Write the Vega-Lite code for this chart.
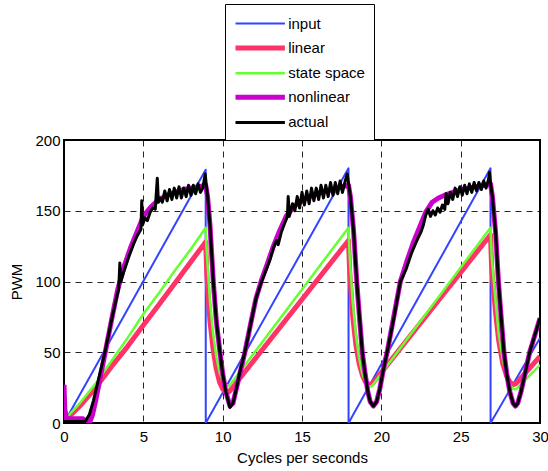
{
  "$schema": "https://vega.github.io/schema/vega-lite/v6.json",
  "width": 476,
  "height": 283,
  "autosize": {"type": "none"},
  "padding": {"left": 64, "top": 140, "right": 8, "bottom": 48},
  "background": "white",
  "config": {
    "view": {"stroke": "black", "strokeWidth": 2},
    "font": "Liberation Sans",
    "axis": {
      "domain": false,
      "ticks": false,
      "labelFont": "Liberation Sans",
      "labelFontSize": 15,
      "labelColor": "black",
      "labelFlush": false,
      "labelOverlap": false,
      "titleFont": "Liberation Sans",
      "titleFontSize": 15,
      "titleFontWeight": "normal",
      "titleColor": "black",
      "gridColor": "black",
      "gridDash": [6, 5],
      "gridOpacity": 0.85,
      "gridWidth": 1
    }
  },
  "data": {"values": [
    {"series": "input", "x": 0.3, "y": 6},
    {"series": "input", "x": 8.93, "y": 179},
    {"series": "input", "x": 8.935, "y": 0},
    {"series": "input", "x": 17.93, "y": 180},
    {"series": "input", "x": 17.935, "y": 0},
    {"series": "input", "x": 26.88, "y": 180},
    {"series": "input", "x": 26.885, "y": 0},
    {"series": "input", "x": 30, "y": 60},

    {"series": "linear", "x": 0.1, "y": 2},
    {"series": "linear", "x": 1, "y": 12},
    {"series": "linear", "x": 2, "y": 25},
    {"series": "linear", "x": 3, "y": 40},
    {"series": "linear", "x": 4, "y": 54},
    {"series": "linear", "x": 5, "y": 69},
    {"series": "linear", "x": 6, "y": 84},
    {"series": "linear", "x": 7, "y": 99},
    {"series": "linear", "x": 8, "y": 114},
    {"series": "linear", "x": 8.93, "y": 128},
    {"series": "linear", "x": 9.0, "y": 105},
    {"series": "linear", "x": 9.2, "y": 72},
    {"series": "linear", "x": 9.4, "y": 52},
    {"series": "linear", "x": 9.6, "y": 38},
    {"series": "linear", "x": 9.8, "y": 29},
    {"series": "linear", "x": 10.0, "y": 24},
    {"series": "linear", "x": 10.25, "y": 21},
    {"series": "linear", "x": 10.4, "y": 22},
    {"series": "linear", "x": 17.93, "y": 129},
    {"series": "linear", "x": 18.0, "y": 108},
    {"series": "linear", "x": 18.2, "y": 75},
    {"series": "linear", "x": 18.4, "y": 55},
    {"series": "linear", "x": 18.6, "y": 42},
    {"series": "linear", "x": 18.8, "y": 34},
    {"series": "linear", "x": 19.0, "y": 29},
    {"series": "linear", "x": 19.25, "y": 27},
    {"series": "linear", "x": 19.45, "y": 28},
    {"series": "linear", "x": 26.88, "y": 133},
    {"series": "linear", "x": 26.95, "y": 110},
    {"series": "linear", "x": 27.2, "y": 78},
    {"series": "linear", "x": 27.4, "y": 58},
    {"series": "linear", "x": 27.65, "y": 42},
    {"series": "linear", "x": 27.9, "y": 33},
    {"series": "linear", "x": 28.1, "y": 29},
    {"series": "linear", "x": 28.3, "y": 27},
    {"series": "linear", "x": 28.5, "y": 28},
    {"series": "linear", "x": 30, "y": 47},

    {"series": "state space", "x": 0.1, "y": 3},
    {"series": "state space", "x": 1, "y": 14},
    {"series": "state space", "x": 2, "y": 28},
    {"series": "state space", "x": 3, "y": 44},
    {"series": "state space", "x": 4, "y": 60},
    {"series": "state space", "x": 5, "y": 77},
    {"series": "state space", "x": 6, "y": 92},
    {"series": "state space", "x": 7, "y": 108},
    {"series": "state space", "x": 8, "y": 123},
    {"series": "state space", "x": 8.93, "y": 138},
    {"series": "state space", "x": 9.0, "y": 120},
    {"series": "state space", "x": 9.2, "y": 86},
    {"series": "state space", "x": 9.4, "y": 63},
    {"series": "state space", "x": 9.6, "y": 47},
    {"series": "state space", "x": 9.8, "y": 36},
    {"series": "state space", "x": 10.0, "y": 30},
    {"series": "state space", "x": 10.2, "y": 27},
    {"series": "state space", "x": 10.4, "y": 26},
    {"series": "state space", "x": 17.93, "y": 138},
    {"series": "state space", "x": 18.0, "y": 118},
    {"series": "state space", "x": 18.2, "y": 85},
    {"series": "state space", "x": 18.4, "y": 62},
    {"series": "state space", "x": 18.6, "y": 46},
    {"series": "state space", "x": 18.8, "y": 35},
    {"series": "state space", "x": 19.0, "y": 29},
    {"series": "state space", "x": 19.2, "y": 26},
    {"series": "state space", "x": 19.4, "y": 26},
    {"series": "state space", "x": 26.88, "y": 138},
    {"series": "state space", "x": 26.95, "y": 118},
    {"series": "state space", "x": 27.2, "y": 86},
    {"series": "state space", "x": 27.4, "y": 63},
    {"series": "state space", "x": 27.65, "y": 45},
    {"series": "state space", "x": 27.9, "y": 33},
    {"series": "state space", "x": 28.1, "y": 27},
    {"series": "state space", "x": 28.3, "y": 24},
    {"series": "state space", "x": 28.5, "y": 24},
    {"series": "state space", "x": 30, "y": 41},

    {"series": "nonlinear", "x": 0, "y": 27},
    {"series": "nonlinear", "x": 0.05, "y": 10},
    {"series": "nonlinear", "x": 0.15, "y": 3},
    {"series": "nonlinear", "x": 0.5, "y": 3},
    {"series": "nonlinear", "x": 1.2, "y": 3},
    {"series": "nonlinear", "x": 1.4, "y": 1},
    {"series": "nonlinear", "x": 1.6, "y": 0},
    {"series": "nonlinear", "x": 1.8, "y": 6},
    {"series": "nonlinear", "x": 2.0, "y": 16},
    {"series": "nonlinear", "x": 2.3, "y": 33},
    {"series": "nonlinear", "x": 2.6, "y": 50},
    {"series": "nonlinear", "x": 3.0, "y": 73},
    {"series": "nonlinear", "x": 3.4, "y": 95},
    {"series": "nonlinear", "x": 3.8, "y": 111},
    {"series": "nonlinear", "x": 4.2, "y": 124},
    {"series": "nonlinear", "x": 4.6, "y": 135},
    {"series": "nonlinear", "x": 5.0, "y": 146},
    {"series": "nonlinear", "x": 5.5, "y": 153},
    {"series": "nonlinear", "x": 6.0, "y": 158},
    {"series": "nonlinear", "x": 6.5, "y": 161},
    {"series": "nonlinear", "x": 7.0, "y": 163},
    {"series": "nonlinear", "x": 7.5, "y": 165},
    {"series": "nonlinear", "x": 8.0, "y": 166},
    {"series": "nonlinear", "x": 8.5, "y": 167},
    {"series": "nonlinear", "x": 8.93, "y": 168},
    {"series": "nonlinear", "x": 9.05, "y": 160},
    {"series": "nonlinear", "x": 9.2, "y": 140},
    {"series": "nonlinear", "x": 9.41, "y": 100},
    {"series": "nonlinear", "x": 9.6, "y": 72},
    {"series": "nonlinear", "x": 9.83, "y": 50},
    {"series": "nonlinear", "x": 10.0, "y": 35},
    {"series": "nonlinear", "x": 10.2, "y": 22},
    {"series": "nonlinear", "x": 10.46, "y": 12},
    {"series": "nonlinear", "x": 10.65, "y": 14},
    {"series": "nonlinear", "x": 10.9, "y": 26},
    {"series": "nonlinear", "x": 11.4, "y": 50},
    {"series": "nonlinear", "x": 11.8, "y": 72},
    {"series": "nonlinear", "x": 12.1, "y": 88},
    {"series": "nonlinear", "x": 12.45, "y": 101},
    {"series": "nonlinear", "x": 12.8, "y": 112},
    {"series": "nonlinear", "x": 13.2, "y": 125},
    {"series": "nonlinear", "x": 13.6, "y": 136},
    {"series": "nonlinear", "x": 14.0, "y": 146},
    {"series": "nonlinear", "x": 14.5, "y": 153},
    {"series": "nonlinear", "x": 15.0, "y": 157},
    {"series": "nonlinear", "x": 15.5, "y": 160},
    {"series": "nonlinear", "x": 16.0, "y": 162},
    {"series": "nonlinear", "x": 16.5, "y": 164},
    {"series": "nonlinear", "x": 17.0, "y": 165},
    {"series": "nonlinear", "x": 17.5, "y": 167},
    {"series": "nonlinear", "x": 17.93, "y": 168},
    {"series": "nonlinear", "x": 18.05, "y": 160},
    {"series": "nonlinear", "x": 18.25, "y": 136},
    {"series": "nonlinear", "x": 18.45, "y": 100},
    {"series": "nonlinear", "x": 18.6, "y": 78},
    {"series": "nonlinear", "x": 18.8, "y": 50},
    {"series": "nonlinear", "x": 18.95, "y": 37},
    {"series": "nonlinear", "x": 19.15, "y": 22},
    {"series": "nonlinear", "x": 19.3, "y": 15},
    {"series": "nonlinear", "x": 19.5, "y": 12},
    {"series": "nonlinear", "x": 19.7, "y": 15},
    {"series": "nonlinear", "x": 19.9, "y": 24},
    {"series": "nonlinear", "x": 20.1, "y": 36},
    {"series": "nonlinear", "x": 20.4, "y": 52},
    {"series": "nonlinear", "x": 20.8, "y": 76},
    {"series": "nonlinear", "x": 21.2, "y": 100},
    {"series": "nonlinear", "x": 21.6, "y": 114},
    {"series": "nonlinear", "x": 22.0, "y": 127},
    {"series": "nonlinear", "x": 22.4, "y": 138},
    {"series": "nonlinear", "x": 22.8, "y": 149},
    {"series": "nonlinear", "x": 23.2, "y": 156},
    {"series": "nonlinear", "x": 23.6, "y": 159},
    {"series": "nonlinear", "x": 24.0, "y": 161},
    {"series": "nonlinear", "x": 24.5, "y": 163},
    {"series": "nonlinear", "x": 25.0, "y": 165},
    {"series": "nonlinear", "x": 25.5, "y": 166},
    {"series": "nonlinear", "x": 26.0, "y": 167},
    {"series": "nonlinear", "x": 26.5, "y": 168},
    {"series": "nonlinear", "x": 26.88, "y": 169},
    {"series": "nonlinear", "x": 27.0, "y": 160},
    {"series": "nonlinear", "x": 27.2, "y": 135},
    {"series": "nonlinear", "x": 27.38, "y": 100},
    {"series": "nonlinear", "x": 27.55, "y": 75},
    {"series": "nonlinear", "x": 27.73, "y": 50},
    {"series": "nonlinear", "x": 27.9, "y": 35},
    {"series": "nonlinear", "x": 28.1, "y": 22},
    {"series": "nonlinear", "x": 28.3, "y": 14},
    {"series": "nonlinear", "x": 28.45, "y": 12},
    {"series": "nonlinear", "x": 28.6, "y": 14},
    {"series": "nonlinear", "x": 28.8, "y": 22},
    {"series": "nonlinear", "x": 29.0, "y": 32},
    {"series": "nonlinear", "x": 29.35, "y": 50},
    {"series": "nonlinear", "x": 29.7, "y": 63},
    {"series": "nonlinear", "x": 30, "y": 74},

    {"series": "actual", "x": 0, "y": 1},
    {"series": "actual", "x": 0.5, "y": 1},
    {"series": "actual", "x": 1.0, "y": 1},
    {"series": "actual", "x": 1.34, "y": 1},
    {"series": "actual", "x": 1.6, "y": 6},
    {"series": "actual", "x": 1.86, "y": 16},
    {"series": "actual", "x": 2.2, "y": 32},
    {"series": "actual", "x": 2.6, "y": 51},
    {"series": "actual", "x": 3.0, "y": 73},
    {"series": "actual", "x": 3.3, "y": 88},
    {"series": "actual", "x": 3.45, "y": 95},
    {"series": "actual", "x": 3.52, "y": 113},
    {"series": "actual", "x": 3.58, "y": 100},
    {"series": "actual", "x": 3.8, "y": 108},
    {"series": "actual", "x": 4.1, "y": 118},
    {"series": "actual", "x": 4.37, "y": 126},
    {"series": "actual", "x": 4.6, "y": 132},
    {"series": "actual", "x": 4.85, "y": 137},
    {"series": "actual", "x": 4.9, "y": 157},
    {"series": "actual", "x": 4.95, "y": 140},
    {"series": "actual", "x": 5.1, "y": 145},
    {"series": "actual", "x": 5.25, "y": 143},
    {"series": "actual", "x": 5.43, "y": 149},
    {"series": "actual", "x": 5.6, "y": 152},
    {"series": "actual", "x": 5.75, "y": 151},
    {"series": "actual", "x": 5.88, "y": 173},
    {"series": "actual", "x": 5.95, "y": 156},
    {"series": "actual", "x": 6.06, "y": 159},
    {"series": "actual", "x": 6.2, "y": 156},
    {"series": "actual", "x": 6.35, "y": 164},
    {"series": "actual", "x": 6.5, "y": 157},
    {"series": "actual", "x": 6.65, "y": 165},
    {"series": "actual", "x": 6.8, "y": 158},
    {"series": "actual", "x": 6.95, "y": 166},
    {"series": "actual", "x": 7.1, "y": 159},
    {"series": "actual", "x": 7.25, "y": 167},
    {"series": "actual", "x": 7.4, "y": 159},
    {"series": "actual", "x": 7.55, "y": 166},
    {"series": "actual", "x": 7.7, "y": 160},
    {"series": "actual", "x": 7.85, "y": 168},
    {"series": "actual", "x": 8.0, "y": 161},
    {"series": "actual", "x": 8.15, "y": 168},
    {"series": "actual", "x": 8.3, "y": 162},
    {"series": "actual", "x": 8.45, "y": 169},
    {"series": "actual", "x": 8.6, "y": 163},
    {"series": "actual", "x": 8.75, "y": 166},
    {"series": "actual", "x": 8.9, "y": 176},
    {"series": "actual", "x": 8.97, "y": 168},
    {"series": "actual", "x": 9.05, "y": 160},
    {"series": "actual", "x": 9.2, "y": 140},
    {"series": "actual", "x": 9.41, "y": 100},
    {"series": "actual", "x": 9.6, "y": 72},
    {"series": "actual", "x": 9.83, "y": 50},
    {"series": "actual", "x": 10.0, "y": 35},
    {"series": "actual", "x": 10.2, "y": 22},
    {"series": "actual", "x": 10.46, "y": 11},
    {"series": "actual", "x": 10.65, "y": 14},
    {"series": "actual", "x": 10.9, "y": 26},
    {"series": "actual", "x": 11.1, "y": 37},
    {"series": "actual", "x": 11.4, "y": 50},
    {"series": "actual", "x": 11.8, "y": 72},
    {"series": "actual", "x": 12.1, "y": 88},
    {"series": "actual", "x": 12.45, "y": 100},
    {"series": "actual", "x": 12.8, "y": 110},
    {"series": "actual", "x": 13.0, "y": 116},
    {"series": "actual", "x": 13.2, "y": 124},
    {"series": "actual", "x": 13.4, "y": 129},
    {"series": "actual", "x": 13.5, "y": 126},
    {"series": "actual", "x": 13.7, "y": 135},
    {"series": "actual", "x": 13.9, "y": 141},
    {"series": "actual", "x": 14.08, "y": 146},
    {"series": "actual", "x": 14.13, "y": 160},
    {"series": "actual", "x": 14.2, "y": 146},
    {"series": "actual", "x": 14.4, "y": 155},
    {"series": "actual", "x": 14.55, "y": 150},
    {"series": "actual", "x": 14.7, "y": 160},
    {"series": "actual", "x": 14.85, "y": 152},
    {"series": "actual", "x": 15.0, "y": 163},
    {"series": "actual", "x": 15.15, "y": 154},
    {"series": "actual", "x": 15.3, "y": 164},
    {"series": "actual", "x": 15.45, "y": 155},
    {"series": "actual", "x": 15.6, "y": 166},
    {"series": "actual", "x": 15.75, "y": 157},
    {"series": "actual", "x": 15.9, "y": 166},
    {"series": "actual", "x": 16.05, "y": 158},
    {"series": "actual", "x": 16.2, "y": 168},
    {"series": "actual", "x": 16.35, "y": 159},
    {"series": "actual", "x": 16.5, "y": 168},
    {"series": "actual", "x": 16.65, "y": 160},
    {"series": "actual", "x": 16.8, "y": 170},
    {"series": "actual", "x": 16.95, "y": 161},
    {"series": "actual", "x": 17.1, "y": 170},
    {"series": "actual", "x": 17.25, "y": 162},
    {"series": "actual", "x": 17.4, "y": 171},
    {"series": "actual", "x": 17.55, "y": 163},
    {"series": "actual", "x": 17.7, "y": 170},
    {"series": "actual", "x": 17.85, "y": 176},
    {"series": "actual", "x": 17.95, "y": 168},
    {"series": "actual", "x": 18.05, "y": 160},
    {"series": "actual", "x": 18.25, "y": 136},
    {"series": "actual", "x": 18.45, "y": 100},
    {"series": "actual", "x": 18.6, "y": 78},
    {"series": "actual", "x": 18.8, "y": 50},
    {"series": "actual", "x": 18.95, "y": 37},
    {"series": "actual", "x": 19.15, "y": 22},
    {"series": "actual", "x": 19.3, "y": 15},
    {"series": "actual", "x": 19.5, "y": 12},
    {"series": "actual", "x": 19.7, "y": 15},
    {"series": "actual", "x": 19.9, "y": 24},
    {"series": "actual", "x": 20.1, "y": 36},
    {"series": "actual", "x": 20.4, "y": 52},
    {"series": "actual", "x": 20.8, "y": 75},
    {"series": "actual", "x": 21.2, "y": 100},
    {"series": "actual", "x": 21.57, "y": 109},
    {"series": "actual", "x": 21.9, "y": 120},
    {"series": "actual", "x": 22.2, "y": 128},
    {"series": "actual", "x": 22.5, "y": 135},
    {"series": "actual", "x": 22.65, "y": 140},
    {"series": "actual", "x": 22.8, "y": 147},
    {"series": "actual", "x": 22.95, "y": 151},
    {"series": "actual", "x": 23.1, "y": 146},
    {"series": "actual", "x": 23.25, "y": 150},
    {"series": "actual", "x": 23.4, "y": 147},
    {"series": "actual", "x": 23.55, "y": 152},
    {"series": "actual", "x": 23.7, "y": 149},
    {"series": "actual", "x": 23.85, "y": 154},
    {"series": "actual", "x": 24.0, "y": 151},
    {"series": "actual", "x": 24.08, "y": 162},
    {"series": "actual", "x": 24.2, "y": 155},
    {"series": "actual", "x": 24.35, "y": 163},
    {"series": "actual", "x": 24.5, "y": 158},
    {"series": "actual", "x": 24.65, "y": 166},
    {"series": "actual", "x": 24.8, "y": 160},
    {"series": "actual", "x": 24.95, "y": 167},
    {"series": "actual", "x": 25.1, "y": 161},
    {"series": "actual", "x": 25.25, "y": 168},
    {"series": "actual", "x": 25.4, "y": 162},
    {"series": "actual", "x": 25.55, "y": 169},
    {"series": "actual", "x": 25.7, "y": 163},
    {"series": "actual", "x": 25.85, "y": 170},
    {"series": "actual", "x": 26.0, "y": 164},
    {"series": "actual", "x": 26.15, "y": 170},
    {"series": "actual", "x": 26.3, "y": 165},
    {"series": "actual", "x": 26.45, "y": 171},
    {"series": "actual", "x": 26.6, "y": 166},
    {"series": "actual", "x": 26.75, "y": 172},
    {"series": "actual", "x": 26.82, "y": 177},
    {"series": "actual", "x": 26.9, "y": 168},
    {"series": "actual", "x": 27.0, "y": 160},
    {"series": "actual", "x": 27.2, "y": 135},
    {"series": "actual", "x": 27.38, "y": 100},
    {"series": "actual", "x": 27.55, "y": 75},
    {"series": "actual", "x": 27.73, "y": 50},
    {"series": "actual", "x": 27.9, "y": 35},
    {"series": "actual", "x": 28.1, "y": 22},
    {"series": "actual", "x": 28.3, "y": 14},
    {"series": "actual", "x": 28.45, "y": 12},
    {"series": "actual", "x": 28.6, "y": 14},
    {"series": "actual", "x": 28.8, "y": 22},
    {"series": "actual", "x": 29.0, "y": 32},
    {"series": "actual", "x": 29.35, "y": 50},
    {"series": "actual", "x": 29.7, "y": 63},
    {"series": "actual", "x": 30, "y": 74}
  ]},
  "mark": {"type": "line", "clip": true, "strokeJoin": "round"},
  "encoding": {
    "x": {
      "field": "x", "type": "quantitative",
      "scale": {"domain": [0, 30], "nice": false, "zero": false},
      "axis": {"values": [0, 5, 10, 15, 20, 25, 30], "title": "Cycles per seconds", "labelPadding": 6, "titlePadding": 6}
    },
    "y": {
      "field": "y", "type": "quantitative",
      "scale": {"domain": [0, 200], "nice": false},
      "axis": {"values": [0, 50, 100, 150, 200], "title": "PWM", "labelPadding": 4, "titlePadding": 10}
    },
    "color": {
      "field": "series", "type": "nominal",
      "scale": {
        "domain": ["input", "linear", "state space", "nonlinear", "actual"],
        "range": ["#3344ff", "#ff3366", "#66ff33", "#cc00cc", "#000000"]
      },
      "legend": {
        "orient": "none",
        "legendX": 161,
        "legendY": -136,
        "title": null,
        "symbolType": "M-2.6,0L2.6,0",
        "symbolSize": 361,
        "symbolOffset": 14.2,
        "symbolStrokeWidth": 2.5,
        "labelOffset": 16,
        "labelFont": "Liberation Sans",
        "labelFontSize": 15,
        "labelColor": "black",
        "rowPadding": 4.1,
        "padding": 9,
        "strokeColor": "black",
        "fillColor": "white",
        "encode": {
          "symbols": {"update": {"strokeWidth": {"signal": "(datum.value === 'linear' || datum.value === 'nonlinear') ? 5 : 2.5"}}}
        }
      }
    },
    "strokeWidth": {
      "field": "series", "type": "nominal",
      "scale": {
        "type": "ordinal",
        "domain": ["input", "linear", "state space", "nonlinear", "actual"],
        "range": [2, 5, 2.5, 5, 3]
      },
      "legend": null
    }
  }
}
